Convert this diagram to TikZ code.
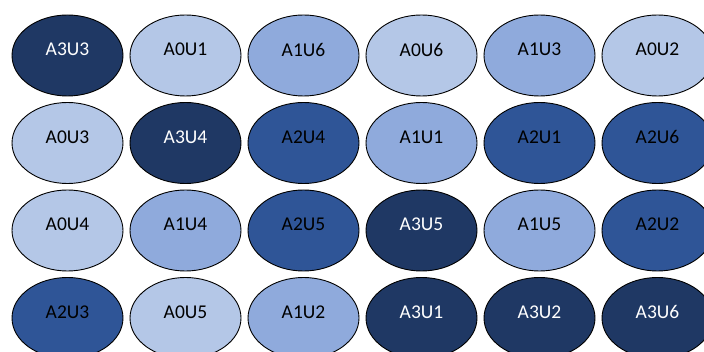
\documentclass[tikz,border=0pt]{standalone}
\usepackage{fontspec}
\setmainfont{Carlito}
\usetikzlibrary{shapes.geometric}
\definecolor{cA3}{HTML}{1F3864}
\definecolor{cA2}{HTML}{2F5597}
\definecolor{cA1}{HTML}{8FAADC}
\definecolor{cA0}{HTML}{B4C7E7}
\def\getlev#1#2#3#4{#2}
\tikzset{
  ell/.style={ellipse, draw=black, line width=0.9pt, minimum width=111pt, minimum height=81pt, inner sep=0pt},
  lbl/.style={font=\fontsize{19.5}{22}\selectfont, inner sep=0pt},
}
\begin{document}
\begin{tikzpicture}[x=1pt,y=-1pt]
\useasboundingbox (0,0) rectangle (704,352);
\clip (0,0) rectangle (704,352);
\foreach \r/\row in {1/{A3U3,A0U1,A1U6,A0U6,A1U3,A0U2},
                     2/{A0U3,A3U4,A2U4,A1U1,A2U1,A2U6},
                     3/{A0U4,A1U4,A2U5,A3U5,A1U5,A2U2},
                     4/{A2U3,A0U5,A1U2,A3U1,A3U2,A3U6}}{
  \foreach \t [count=\c] in \row {
    \pgfmathsetmacro{\xx}{67.5+118*(\c-1)}
    \pgfmathsetmacro{\yy}{55.5+87.5*(\r-1)}
    \edef\lev{\expandafter\getlev\t}
    \ifnum\lev=3 \def\tc{white}\else\def\tc{black}\fi
    \node[ell, fill=cA\lev] (n\r\c) at (\xx,\yy) {};
    \node[lbl, text=\tc] (t\r\c) at ([yshift=6pt]n\r\c.center) {\t};
  }
}
\end{tikzpicture}
\end{document}
